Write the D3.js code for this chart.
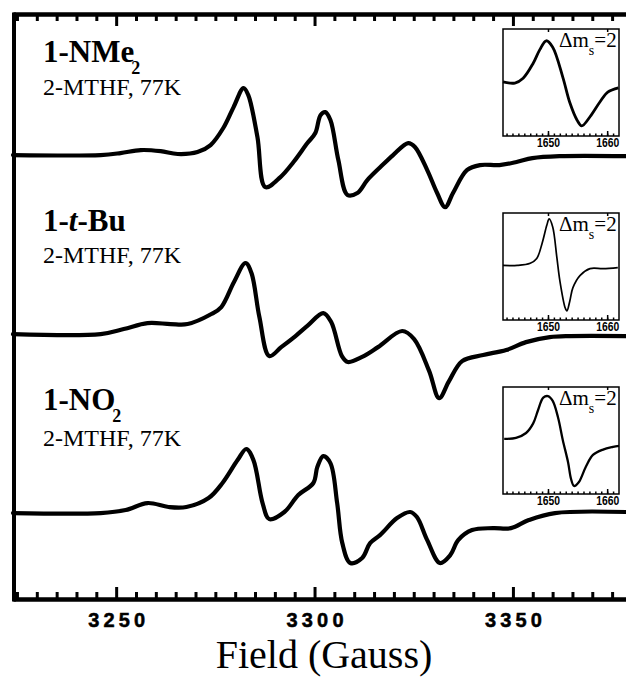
<!DOCTYPE html>
<html>
<head>
<meta charset="utf-8">
<script src="https://cdn.jsdelivr.net/npm/d3@7"></script>
<style>
body { margin: 0; background: #fff; }
svg { display: block; }
</style>
</head>
<body>
<svg width="626" height="681"></svg>
<script>
// main spectra: field (G) and derivative signal (a.u., relative to each trace's own baseline)
var field1 = [3224, 3246.1, 3251.1, 3256.2, 3261.2, 3265.5, 3270.5, 3273.8, 3277.0, 3279.6, 3282.1, 3283.3, 3285.6, 3287.6,
	3291.4, 3294.7, 3298.2, 3300.2, 3301.5, 3302.7, 3304.0, 3306.0, 3308.3, 3310.8, 3313.3, 3316.6, 3319.8, 3323.6,
	3325.3, 3328.4, 3330.9, 3332.9, 3334.9, 3338.4, 3341.7, 3346.6, 3350.9, 3354.9, 3361.7, 3378.5];
var sig1 = [0, 0, 0.011, 0.028, 0.022, 0.006, 0.017, 0.056, 0.151, 0.268, 0.374, 0.335, 0.101, -0.179,
	-0.123, -0.039, 0.067, 0.123, 0.223, 0.240, 0.196, -0.028, -0.223, -0.212, -0.140, -0.067, 0, 0.067,
	0.045, -0.084, -0.212, -0.291, -0.212, -0.084, -0.056, -0.056, -0.039, -0.017, -0.006, -0.006];

var field2 = [3224, 3246.1, 3251.9, 3257.9, 3263.7, 3268.0, 3274.0, 3276.5, 3279.7, 3282.6, 3284.1, 3286.1, 3288.6,
	3291.6, 3295.2, 3298.4, 3302.2, 3304.2, 3306.9, 3308.4, 3312.0, 3316.0, 3322.1, 3325.1, 3328.9, 3331.4,
	3333.9, 3337.2, 3342.5, 3348.3, 3353.3, 3359.3, 3364.4, 3378.5];
var sig2 = [0, 0, 0.028, 0.061, 0.056, 0.056, 0.112, 0.151, 0.291, 0.397, 0.341, 0.095, -0.123,
	-0.073, -0.011, 0.050, 0.117, 0.067, -0.123, -0.156, -0.128, -0.073, 0.017, -0.028, -0.207, -0.358,
	-0.263, -0.151, -0.117, -0.089, -0.045, -0.017, -0.011, -0.011];

var field3 = [3224, 3246.1, 3252.4, 3257.9, 3263.2, 3267.7, 3273.3, 3276.8, 3280.6, 3282.8, 3284.6, 3286.9, 3288.6,
	3292.4, 3295.9, 3299.7, 3300.7, 3302.2, 3304.0, 3305.7, 3307.0, 3309.0, 3312.0, 3314.0, 3316.5, 3320.8,
	3324.1, 3325.8, 3328.4, 3331.6, 3334.2, 3336.2, 3339.7, 3345.0, 3349.5, 3354.0, 3360.6, 3378.5];
var sig3 = [0, 0, 0.017, 0.056, 0.034, 0.034, 0.084, 0.168, 0.296, 0.358, 0.296, 0.056, -0.034,
	0.006, 0.101, 0.168, 0.257, 0.318, 0.279, 0.056, -0.168, -0.279, -0.251, -0.168, -0.123, -0.028,
	0.006, -0.022, -0.151, -0.279, -0.235, -0.151, -0.095, -0.084, -0.084, -0.039, 0, 0.006];

var offsets = [2, 1, 0];
var majorTicks = [3250, 3300, 3350];

// half-field (delta ms = 2) insets
var insetField1 = [1642.4, 1644.4, 1645.8, 1647.5, 1648.6, 1649.7, 1650.8, 1652.5, 1653.7, 1654.9, 1655.7, 1657.1, 1658.8, 1660.1, 1661.9];
var insetSig1 = [0.01, -0.01, 0.08, 0.36, 0.61, 0.78, 0.66, 0.10, -0.38, -0.70, -0.81, -0.64, -0.36, -0.18, -0.10];
var insetField2 = [1642.4, 1644.8, 1647.0, 1648.1, 1649.0, 1649.8, 1650.2, 1650.8, 1651.5, 1652.0, 1652.9, 1653.2, 1653.7, 1654.2, 1655.4, 1657.1, 1659.3, 1661.8];
var insetSig2 = [0.02, 0.02, 0.06, 0.15, 0.43, 0.77, 0.89, 0.74, 0.17, -0.26, -0.77, -0.83, -0.64, -0.40, -0.17, -0.04, -0.04, -0.02];
var insetField3 = [1642.6, 1644.6, 1646.3, 1647.5, 1648.3, 1649.2, 1650.0, 1650.8, 1651.7, 1652.5, 1653.4, 1653.9, 1654.4, 1655.2, 1656.4, 1657.6, 1659.3, 1661.0, 1662.0];
var insetSig3 = [0.03, 0.05, 0.14, 0.32, 0.56, 0.80, 0.83, 0.74, 0.43, 0.01, -0.41, -0.72, -0.85, -0.78, -0.49, -0.27, -0.17, -0.12, -0.10];
var insetTicks = [1650, 1660];

var svg = d3.select('svg');
var serif = '"Liberation Serif", "Times New Roman", serif';
var sans = '"Liberation Sans", Arial, sans-serif';

var x = d3.scaleLinear().domain([3224, 3378.5]).range([13, 626]);
var y = d3.scaleLinear().domain([-0.48, 2.788]).range([599, 14]);

function zip(f, s) {
	return f.map(function(d, i) { return [d, s[i]]; });
}

// spectra
var traces = [zip(field1, sig1), zip(field2, sig2), zip(field3, sig3)];
traces.forEach(function(data, i) {
	var line = d3.line()
		.curve(d3.curveCatmullRom.alpha(0.5))
		.x(function(d) { return x(d[0]); })
		.y(function(d) { return y(d[1] + offsets[i]); });
	svg.append('path')
		.datum(data)
		.attr('fill', 'none')
		.attr('stroke', '#000')
		.attr('stroke-width', 4.2)
		.attr('stroke-linejoin', 'round')
		.attr('stroke-linecap', 'round')
		.attr('d', line);
});

// frame: bottom, top, left
var minorTicks = d3.range(3225, 3380, 5).filter(function(v) { return v % 50 != 0; });

function styleAxis(g, domainW) {
	g.select('.domain').attr('stroke-width', domainW);
	g.selectAll('.tick line').attr('stroke-width', 3);
}

var gBottom = svg.append('g').attr('transform', 'translate(0,599)');
gBottom.append('g').call(d3.axisBottom(x).tickValues(minorTicks).tickSizeInner(-7).tickSizeOuter(0).tickFormat(''))
	.call(styleAxis, 4);
var bMaj = gBottom.append('g').call(d3.axisBottom(x).tickValues(majorTicks).tickSizeInner(-12).tickSizeOuter(0)
		.tickPadding(14).tickFormat(d3.format('d')))
	.call(styleAxis, 4);
bMaj.selectAll('.tick text')
	.attr('font-family', sans)
	.attr('font-weight', 'bold')
	.attr('font-size', 20)
	.attr('fill', '#000')
	.attr('stroke', '#000')
	.attr('stroke-width', 0.5)
	.attr('textLength', 57)
	.attr('lengthAdjust', 'spacing');

var gTop = svg.append('g').attr('transform', 'translate(0,14)');
gTop.append('g').call(d3.axisTop(x).tickValues(minorTicks).tickSizeInner(-7).tickSizeOuter(0).tickFormat(''))
	.call(styleAxis, 4);
gTop.append('g').call(d3.axisTop(x).tickValues(majorTicks).tickSizeInner(-12).tickSizeOuter(0).tickFormat(''))
	.call(styleAxis, 4);

svg.append('g').attr('transform', 'translate(13.5,0)')
	.call(d3.axisLeft(y).tickValues([]).tickSizeOuter(0))
	.call(function(g) {
		g.select('.domain').attr('stroke-width', 4).attr('stroke-linecap', 'square');
	});

// x axis title
svg.append('text')
	.attr('x', 324).attr('y', 668)
	.attr('text-anchor', 'middle')
	.attr('font-family', serif)
	.attr('font-size', 40)
	.text('Field (Gauss)');

// sample labels
function label(yy, parts) {
	var t = svg.append('text')
		.attr('x', 43).attr('y', yy)
		.attr('font-family', serif)
		.attr('font-weight', 'bold')
		.attr('font-size', 31);
	parts.forEach(function(p) {
		var s = t.append('tspan').text(p.t);
		if (p.italic) s.attr('font-style', 'italic');
		if (p.sub) s.attr('font-size', 18).attr('dy', 12).attr('dx', -3);
	});
}
function subtitle(yy) {
	svg.append('text')
		.attr('x', 43).attr('y', yy)
		.attr('font-family', serif)
		.attr('font-size', 24)
		.text('2-MTHF, 77K');
}
label(62, [{t: '1-NMe'}, {t: '2', sub: true}]);
subtitle(95);
label(231, [{t: '1-'}, {t: 't', italic: true}, {t: '-Bu'}]);
subtitle(263);
label(410, [{t: '1-NO'}, {t: '2', sub: true}]);
subtitle(446);

// insets
var insetTops = [29, 213, 387];
var insetWidths = [2.8, 1.7, 2.3];
var insets = [zip(insetField1, insetSig1), zip(insetField2, insetSig2), zip(insetField3, insetSig3)];
var ix = d3.scaleLinear().domain([1642.4, 1662]).range([503, 619]);
var insetMinor = d3.range(1643, 1662);

insets.forEach(function(data, i) {
	var t = insetTops[i], h = 107;
	var iy = d3.scaleLinear().domain([-1, 1]).range([t + h, t]);
	var g = svg.append('g');
	g.append('rect')
		.attr('x', ix.range()[0]).attr('y', t)
		.attr('width', ix.range()[1] - ix.range()[0]).attr('height', h)
		.attr('fill', '#fff')
		.attr('stroke', '#000')
		.attr('stroke-width', 1.5);

	var gb = g.append('g').attr('transform', 'translate(0,' + (t + h) + ')');
	gb.append('g').call(d3.axisBottom(ix).tickValues(insetMinor).tickSizeInner(-2.5).tickSizeOuter(0).tickFormat(''));
	var lab = gb.append('g').call(d3.axisBottom(ix).tickValues(insetTicks).tickSizeInner(-5).tickSizeOuter(0)
		.tickPadding(2).tickFormat(d3.format('d')));
	gb.selectAll('.domain').remove();
	gb.selectAll('.tick line').attr('stroke-width', 1.5);
	lab.selectAll('.tick text')
		.attr('font-family', sans)
		.attr('font-weight', 'bold')
		.attr('font-size', 13)
		.attr('fill', '#000')
		.attr('textLength', 23)
		.attr('lengthAdjust', 'spacingAndGlyphs');

	var gt = g.append('g').attr('transform', 'translate(0,' + t + ')');
	gt.call(d3.axisTop(ix).tickValues(insetTicks).tickSizeInner(-3).tickSizeOuter(0).tickFormat(''));
	gt.select('.domain').remove();
	gt.selectAll('.tick line').attr('stroke-width', 1.5);

	var line = d3.line()
		.curve(d3.curveCatmullRom.alpha(0.5))
		.x(function(d) { return ix(d[0]); })
		.y(function(d) { return iy(d[1]); });
	g.append('path')
		.datum(data)
		.attr('fill', 'none')
		.attr('stroke', '#000')
		.attr('stroke-width', insetWidths[i])
		.attr('stroke-linejoin', 'round')
		.attr('d', line);

	var tt = g.append('text')
		.attr('x', 559).attr('y', t + 18)
		.attr('font-family', serif)
		.attr('font-size', 21);
	tt.append('tspan').text('\u0394m');
	tt.append('tspan').attr('font-size', 14).attr('dy', 8).text('s');
	tt.append('tspan').attr('dy', -8).text('=2');
});
</script>
</body>
</html>
